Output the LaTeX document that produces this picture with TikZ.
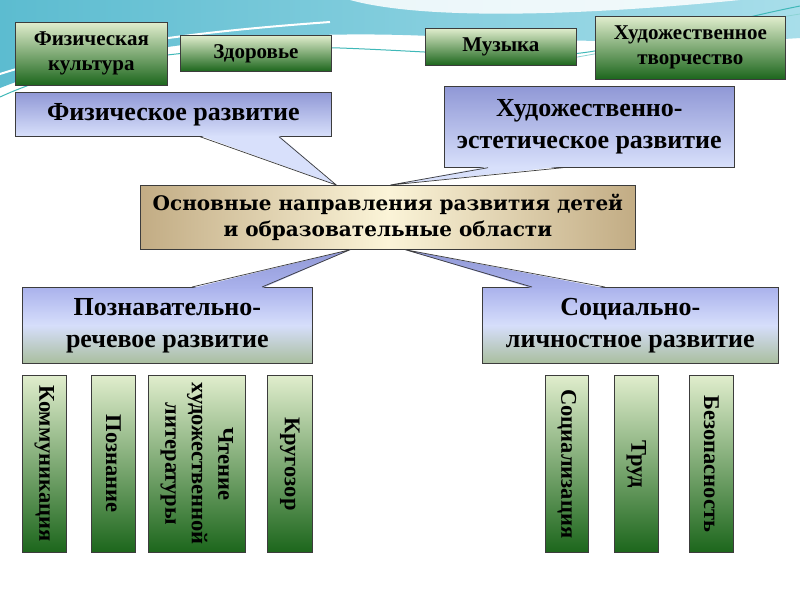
\documentclass[tikz,border=0pt]{standalone}
\usepackage{fontspec}
\setmainfont{Liberation Serif}
\newfontfamily\dvserif{DejaVu Serif}
\usetikzlibrary{calc}
\definecolor{gtop}{HTML}{E0EDCD}
\definecolor{gbot}{HTML}{1C661C}
\definecolor{btopA}{HTML}{9098D6}
\definecolor{bbotA}{HTML}{D8E0FB}
\definecolor{btopB}{HTML}{AAB2EC}
\definecolor{bmidB}{HTML}{D6DEFB}
\definecolor{bbotB}{HTML}{A9BE9E}
\definecolor{tanE}{HTML}{C2AC84}
\definecolor{tanM}{HTML}{FBF4D8}
\definecolor{sky}{HTML}{5CBCD0}
\definecolor{skyL}{HTML}{A8DEEA}
\definecolor{skyline}{HTML}{3FB8B8}
\definecolor{edge}{HTML}{3C3C3C}
\begin{document}
\begin{tikzpicture}[x=1pt,y=-1pt,
  box/.style={draw=edge, line width=0.7pt, anchor=north west, inner sep=2pt, align=center, text=black},
  gbox/.style={box, top color=gtop, bottom color=gbot, font=\fontsize{21}{25}\selectfont\bfseries},
  vbox/.style={box, top color=gtop, bottom color=gbot},
  vtext/.style={rotate=-90, align=center, inner sep=0pt, font=\fontsize{22.5}{26.5}\selectfont\bfseries},
  bboxA/.style={box, top color=btopA, bottom color=bbotA, font=\fontsize{26}{32}\selectfont\bfseries},
  bboxB/.style={box, top color=btopB, bottom color=bbotB, middle color=bmidB, font=\fontsize{26}{32}\selectfont\bfseries},
  mbox/.style={box, left color=tanE, right color=tanE, middle color=tanM, font=\dvserif\fontsize{20}{26}\selectfont\bfseries},
  tailA/.style={fill=bbotA},
  tailB/.style={top color=btopA, bottom color=btopB},
  tailline/.style={draw=edge, line width=0.7pt}
]
\useasboundingbox (0,0) rectangle (800,600);
\fill[white] (0,0) rectangle (800,600);
% background swooshes
\shade[left color=sky, right color=skyL] (0,0) -- (800,0) -- (800,38)
  .. controls (700,45) and (520,40) .. (430,36)
  .. controls (300,30) and (120,40) .. (0,88) -- cycle;
\fill[white, opacity=0.85] (350,0) .. controls (430,22) and (600,14) .. (740,0) -- cycle;
\draw[white, line width=2pt] (0,74) .. controls (100,42) and (220,30) .. (330,22);
\draw[skyline, line width=1pt] (0,97) .. controls (80,60) and (200,45) .. (340,48)
  .. controls (450,52) and (540,62) .. (600,50) .. controls (680,35) and (740,18) .. (800,6);
\draw[skyline!60, line width=0.8pt] (560,60) .. controls (650,45) and (730,25) .. (800,14);

% top green boxes
\node[gbox, minimum width=152pt, minimum height=63pt] (fk) at (15,22) {Физическая\\культура};
\node[gbox, minimum width=151pt, minimum height=36pt] (zd) at (180,35) {Здоровье};
\node[gbox, minimum width=151pt, minimum height=37pt] (mu) at (425,28) {Музыка};
\node[gbox, minimum width=190pt, minimum height=63pt] (ht) at (595,16) {Художественное\\творчество};

% main box
\node[mbox, minimum width=495pt, minimum height=64pt] (main) at (140,185) {Основные направления развития детей\\и образовательные области};

% upper callouts
\node[bboxA, minimum width=316pt, minimum height=44pt] (phys) at (15,92) {Физическое развитие};
\node[bboxA, minimum width=290pt, minimum height=81pt] (art) at (444,86) {Художественно-\\эстетическое развитие};

\coordinate (t1) at ($(main.north west)!0.396!(main.north east)$);
\coordinate (t2) at ($(main.north west)!0.505!(main.north east)$);
\coordinate (p1) at ($(phys.south west)+(185,0)$);
\coordinate (p2) at ($(phys.south west)+(264,0)$);
\coordinate (a1) at ($(art.south west)+(44,0)$);
\coordinate (a2) at ($(art.south west)+(119,0)$);
\fill[tailA] ($(p1)+(0,-1.2)$) -- (t1) -- ($(p2)+(0,-1.2)$) -- cycle;
\draw[tailline] (p1) -- (t1) -- (p2);
\fill[tailA] ($(a1)+(0,-1.2)$) -- (t2) -- ($(a2)+(0,-1.2)$) -- cycle;
\draw[tailline] (a1) -- (t2) -- (a2);

% lower callouts
\node[bboxB, minimum width=290pt, minimum height=76pt] (cog) at (22,287) {Познавательно-\\речевое развитие};
\node[bboxB, minimum width=296pt, minimum height=76pt] (soc) at (482,287) {Социально-\\личностное развитие};

\coordinate (t3) at ($(main.south west)!0.424!(main.south east)$);
\coordinate (t4) at ($(main.south west)!0.535!(main.south east)$);
\coordinate (c1) at ($(cog.north west)+(170,0)$);
\coordinate (c2) at ($(cog.north west)+(240,0)$);
\coordinate (s1) at ($(soc.north west)+(50,0)$);
\coordinate (s2) at ($(soc.north west)+(123,0)$);
\shade[tailB] ($(c1)+(0,1.2)$) -- (t3) -- ($(c2)+(0,1.2)$) -- cycle;
\draw[tailline] (c1) -- (t3) -- (c2);
\shade[tailB] ($(s1)+(0,1.2)$) -- (t4) -- ($(s2)+(0,1.2)$) -- cycle;
\draw[tailline] (s1) -- (t4) -- (s2);

% vertical boxes
\node[vbox, minimum width=44pt, minimum height=177pt] (k1) at (22,375) {};
\node[vtext] (k1t) at (k1.center) {Коммуникация};
\node[vbox, minimum width=44pt, minimum height=177pt] (k2) at (91,375) {};
\node[vtext] (k2t) at (k2.center) {Познание};
\node[vbox, minimum width=97pt, minimum height=177pt] (k3) at (148,375) {};
\node[vtext] (k3t) at (k3.center) {Чтение\\художественной\\литературы};
\node[vbox, minimum width=45pt, minimum height=177pt] (k4) at (267,375) {};
\node[vtext] (k4t) at (k4.center) {Кругозор};
\node[vbox, minimum width=43pt, minimum height=177pt] (q1) at (545,375) {};
\node[vtext] (q1t) at (q1.center) {Социализация};
\node[vbox, minimum width=44pt, minimum height=177pt] (q2) at (614,375) {};
\node[vtext] (q2t) at (q2.center) {Труд};
\node[vbox, minimum width=44pt, minimum height=177pt] (q3) at (689,375) {};
\node[vtext] (q3t) at (q3.center) {Безопасность};
\end{tikzpicture}
\end{document}
